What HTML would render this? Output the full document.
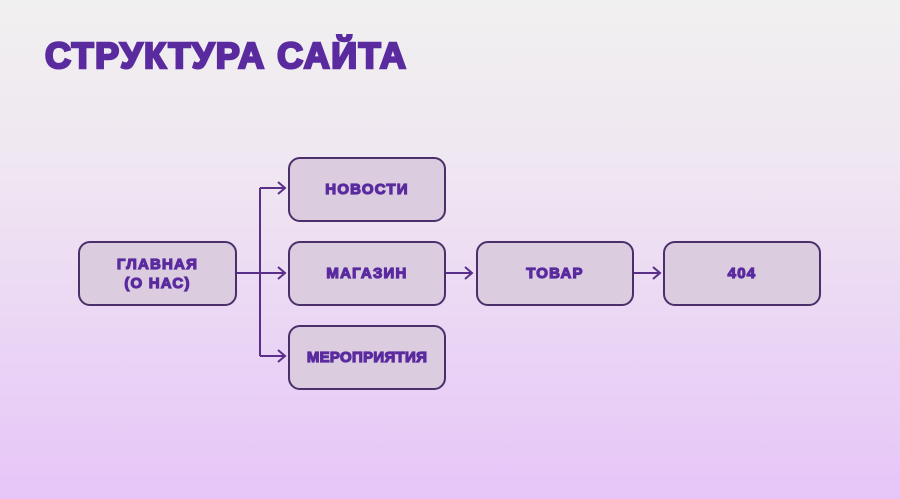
<!DOCTYPE html>
<html><head><meta charset="utf-8"><style>
html,body{margin:0;padding:0}
body{width:900px;height:499px;overflow:hidden;position:relative;background:linear-gradient(180deg,#f1f0f0 0%,#efe6f1 35%,#ead4f5 70%,#e7c5f8 100%);font-family:"Liberation Sans","DejaVu Sans",sans-serif}
.t{position:absolute;left:45px;top:36px;font-size:36px;font-weight:900;color:#5a2a9f;letter-spacing:1.5px;-webkit-text-stroke:2.5px #5a2a9f;line-height:40px}
.b{position:absolute;box-sizing:border-box;background:#dcccdf;border:2px solid #4a2f6a;border-radius:12px;display:flex;align-items:center;justify-content:center;text-align:center;color:#5a2a9f;font-weight:900;font-size:15px;line-height:19px;-webkit-text-stroke:1.2px #5a2a9f;letter-spacing:1.2px}
</style></head><body>
<div class="t">СТРУКТУРА САЙТА</div>
<svg width="900" height="499" style="position:absolute;left:0;top:0" fill="none" stroke="#5a2f8a" stroke-width="2">
<path d="M237 273H285M260 188V356M260 188H285M260 356H285M446 273H472M634 273H660"/>
<path d="M278 182L285 188L278 194M278 267L285 273L278 279M278 350L285 356L278 362M465 267L472 273L465 279M653 267L660 273L653 279"/>
</svg>
<div class="b" style="left:78px;top:241px;width:159px;height:65px">ГЛАВНАЯ<br>(О НАС)</div>
<div class="b" style="left:288px;top:157px;width:158px;height:65px">НОВОСТИ</div>
<div class="b" style="left:288px;top:241px;width:158px;height:65px">МАГАЗИН</div>
<div class="b" style="left:288px;top:325px;width:158px;height:65px;letter-spacing:0.3px">МЕРОПРИЯТИЯ</div>
<div class="b" style="left:476px;top:241px;width:158px;height:65px">ТОВАР</div>
<div class="b" style="left:663px;top:241px;width:158px;height:65px">404</div>
</body></html>
